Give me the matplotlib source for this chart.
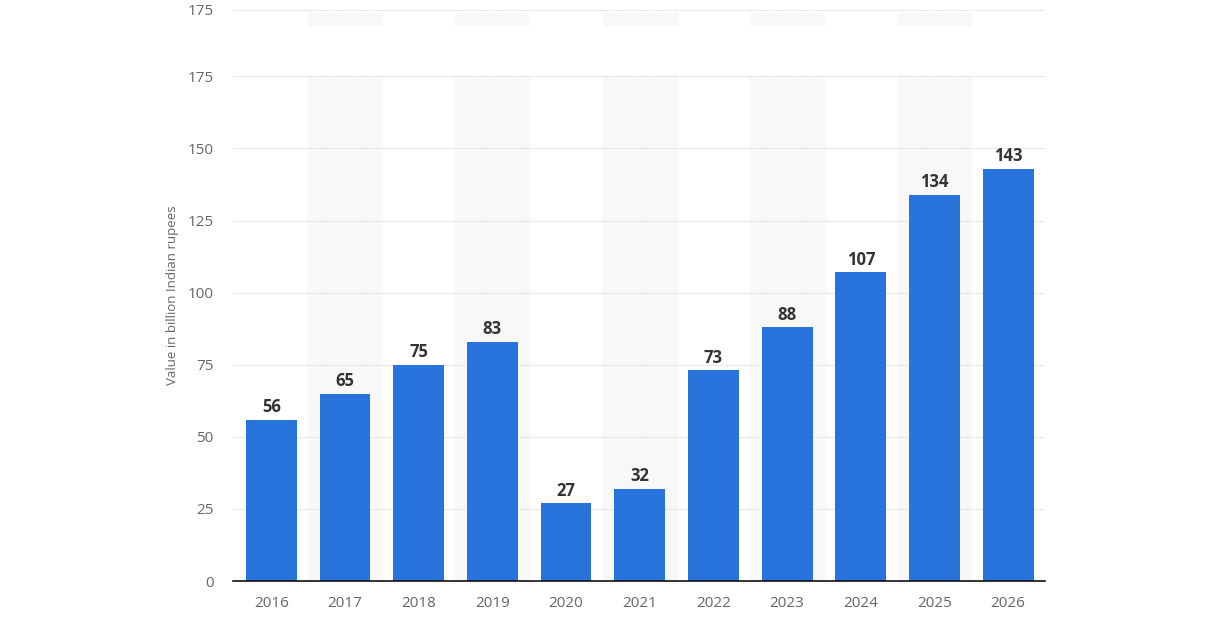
import matplotlib.pyplot as plt
import numpy as np

plt.rcParams["font.family"] = ["Open Sans", "DejaVu Sans"]

years = ["2016", "2017", "2018", "2019", "2020", "2021", "2022", "2023", "2024", "2025", "2026"]
values = [56, 65, 75, 83, 27, 32, 73, 88, 107, 134, 143]
ytick_vals = [0, 25, 50, 75, 100, 125, 150, 175, 198]
ytick_labels = ["0", "25", "50", "75", "100", "125", "150", "175", "175"]

fig = plt.figure(figsize=(12.28, 6.41), dpi=100)
ax = fig.add_axes([0.1897, 0.0936, 0.6613, 0.8908])

x = np.arange(len(years))

# faint alternating column bands
for i in x:
    if i % 2 == 1:
        ax.axvspan(i - 0.5, i + 0.5, ymax=175 / 198, color="#f8f8f8", zorder=0)
        ax.axvspan(i - 0.5, i + 0.5, ymin=0.973, ymax=0.995, color="#f8f8f8", zorder=0)

bars = ax.bar(x, values, width=0.69, color="#2874dc", zorder=2)
for xi, v in zip(x, values):
    ax.text(xi, v + 1.2, str(v), ha="center", va="bottom", fontsize=12,
            fontweight="bold", color="#333333", zorder=3)

ax.set_xlim(-0.52, 10.5)
ax.set_ylim(0, 198)
ax.set_xticks(x)
ax.set_xticklabels(years)
ax.set_yticks(ytick_vals)
ax.set_yticklabels(ytick_labels)
ax.tick_params(axis="both", length=0, colors="#666666", labelsize=11)
ax.tick_params(axis="x", pad=11)
ax.tick_params(axis="y", pad=14)

ax.grid(axis="y", color="#d6d6d6", linestyle=(0, (1, 1)), linewidth=0.8, zorder=1)
ax.set_axisbelow(True)
for s in ["top", "right", "left"]:
    ax.spines[s].set_visible(False)
ax.spines["bottom"].set_color("#111111")
ax.spines["bottom"].set_linewidth(1.2)
ax.spines["bottom"].set_zorder(4)

ax.set_ylabel("Value in billion Indian rupees", fontsize=9.5, color="#666666", labelpad=6)

plt.savefig("out.png", dpi=100)
